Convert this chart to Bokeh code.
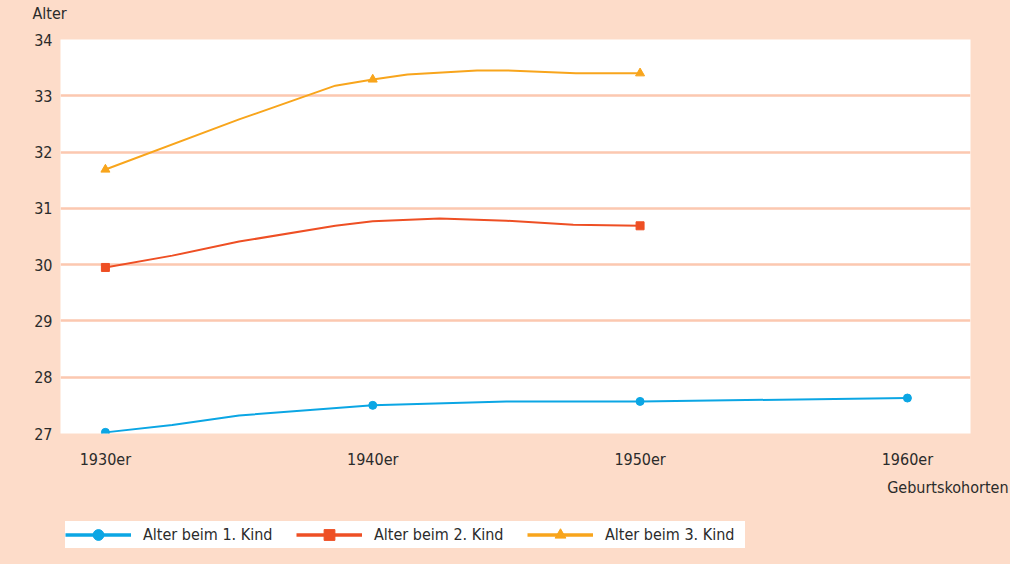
from bokeh.plotting import figure
from bokeh.layouts import column
from bokeh.models import Range1d, FixedTicker, Title, Legend, LegendItem
from bokeh.embed import file_html
from bokeh.resources import INLINE

# ---- data ----
x_ticks = [1930, 1940, 1950, 1960]
x_tick_labels = ["1930er", "1940er", "1950er", "1960er"]
y_ticks = [27, 28, 29, 30, 31, 32, 33, 34]

years_1 = [1930, 1932.5, 1935, 1940, 1945, 1950, 1960]
alter_1 = [27.02, 27.15, 27.32, 27.50, 27.57, 27.57, 27.63]
mark_years_1 = [1930, 1940, 1950, 1960]
mark_alter_1 = [27.02, 27.50, 27.57, 27.63]

years_2 = [1930, 1932.5, 1935, 1938.6, 1940, 1942.5, 1945, 1947.5, 1950]
alter_2 = [29.95, 30.16, 30.41, 30.69, 30.77, 30.82, 30.78, 30.71, 30.69]
mark_years_2 = [1930, 1950]
mark_alter_2 = [29.95, 30.69]

years_3 = [1930, 1935, 1938.6, 1940, 1941.3, 1943.9, 1945, 1947.6, 1950]
alter_3 = [31.69, 32.58, 33.18, 33.29, 33.38, 33.45, 33.45, 33.40, 33.40]
mark_years_3 = [1930, 1940, 1950]
mark_alter_3 = [31.69, 33.29, 33.40]

labels = ["Alter beim 1. Kind", "Alter beim 2. Kind", "Alter beim 3. Kind"]
y_title = "Alter"
x_title = "Geburtskohorten"

# ---- style ----
PEACH = "#fddcc9"
GRID = "#fcc8b0"
BLUE = "#0ba6e4"
RED = "#ee4f24"
ORANGE = "#f8a51c"
TXT = "#2b2b2b"
FONT = "'DejaVu Sans Condensed', 'Liberation Sans Narrow', Roboto, sans-serif"
W = 1010


def strip(height):
    f = figure(width=W, height=height, output_backend="svg", toolbar_location=None,
               x_range=Range1d(0, 1), y_range=Range1d(0, 1),
               x_axis_location=None, y_axis_location=None,
               min_border_left=60, min_border_right=40, min_border_top=0, min_border_bottom=0)
    f.background_fill_color = PEACH
    f.border_fill_color = PEACH
    f.outline_line_color = None
    f.xgrid.grid_line_color = None
    f.ygrid.grid_line_color = None
    return f


# top strip with the y-axis title
top = strip(30)
top.title = Title(text=y_title, align="left", offset=-28, text_font_size="16px",
                  text_font_style="normal", text_color=TXT, text_font=FONT, standoff=2)

# main chart
p = figure(width=W, height=472, output_backend="svg", toolbar_location=None,
           x_range=Range1d(1928.32, 1962.36), y_range=Range1d(27, 34),
           min_border_left=60, min_border_right=40, min_border_top=9, min_border_bottom=69)
p.background_fill_color = "white"
p.border_fill_color = PEACH
p.outline_line_color = None

p.xgrid.grid_line_color = None
p.ygrid.grid_line_color = GRID
p.ygrid.grid_line_width = 2.5

p.xaxis.ticker = FixedTicker(ticks=x_ticks)
p.xaxis.major_label_overrides = {t: l for t, l in zip(x_ticks, x_tick_labels)}
p.yaxis.ticker = FixedTicker(ticks=y_ticks)
for ax in (p.xaxis, p.yaxis):
    ax.axis_line_color = None
    ax.major_tick_line_color = None
    ax.minor_tick_line_color = None
    ax.major_tick_out = 0
    ax.major_tick_in = 0
    ax.minor_tick_out = 0
    ax.minor_tick_in = 0
    ax.major_label_text_font = FONT
    ax.major_label_text_font_size = "16px"
    ax.major_label_text_color = TXT
p.xaxis.major_label_standoff = 16
p.yaxis.major_label_standoff = 8

p.add_layout(Title(text=x_title, align="right", offset=-38, text_font_size="16px",
                   text_font_style="normal", text_color=TXT, text_font=FONT, standoff=9), "below")

# legend strip
q = strip(62)

series = [
    (years_1, alter_1, mark_years_1, mark_alter_1, BLUE, "circle", 8),
    (years_2, alter_2, mark_years_2, mark_alter_2, RED, "square", 8),
    (years_3, alter_3, mark_years_3, mark_alter_3, ORANGE, "triangle", 9),
]

items = []
for (xs, ys, mx, my, col, mk, ms), lab in zip(series, labels):
    p.line(xs, ys, line_color=col, line_width=2)
    p.scatter(mx, my, marker=mk, size=ms, fill_color=col, line_color=col)
    # legend glyphs: same series drawn in the legend strip, whose ranges keep them out of view
    lr = q.line(mx, my, line_color=col, line_width=3.5)
    sr = q.scatter(mx, my, marker=mk, size=ms, fill_color=col, line_color=col)
    items.append(LegendItem(label=lab, renderers=[lr, sr]))

legend = Legend(items=items, orientation="horizontal", location=(5, 16),
                background_fill_color="white", background_fill_alpha=1.0, border_line_color=None,
                label_text_font=FONT, label_text_font_size="16px", label_text_color=TXT,
                glyph_width=66, glyph_height=27, label_standoff=12, spacing=13,
                label_width=140, padding=6, margin=0)
q.add_layout(legend, "center")

layout = column(top, p, q, spacing=0, styles={"background-color": PEACH})
open("out.html", "w").write(file_html(layout, INLINE))
